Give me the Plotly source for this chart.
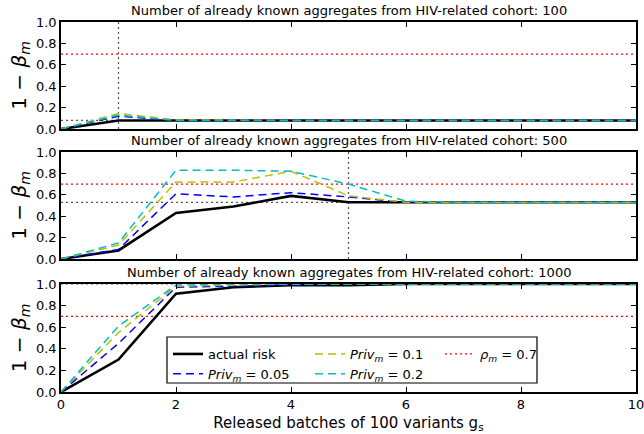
import plotly.graph_objects as go
from plotly.subplots import make_subplots

# ---- data ----
batches = [0, 1, 2, 3, 4, 5, 6, 7, 8, 9, 10]

actual_100 = [0, 0.08, 0.08, 0.08, 0.08, 0.08, 0.08, 0.08, 0.08, 0.08, 0.08]
priv005_100 = [0, 0.12, 0.08, 0.08, 0.08, 0.08, 0.08, 0.08, 0.08, 0.08, 0.08]
priv01_100 = [0, 0.145, 0.085, 0.08, 0.08, 0.08, 0.08, 0.08, 0.08, 0.08, 0.08]
priv02_100 = [0, 0.13, 0.08, 0.08, 0.08, 0.08, 0.08, 0.08, 0.08, 0.08, 0.08]

actual_500 = [0, 0.08, 0.43, 0.49, 0.59, 0.53, 0.53, 0.53, 0.53, 0.53, 0.53]
priv005_500 = [0, 0.09, 0.61, 0.58, 0.62, 0.58, 0.53, 0.53, 0.53, 0.53, 0.53]
priv01_500 = [0, 0.13, 0.72, 0.72, 0.82, 0.59, 0.53, 0.53, 0.53, 0.53, 0.53]
priv02_500 = [0, 0.15, 0.83, 0.83, 0.82, 0.70, 0.54, 0.53, 0.53, 0.53, 0.53]

actual_1000 = [0, 0.30, 0.91, 0.97, 0.99, 0.99, 1.0, 1.0, 1.0, 1.0, 1.0]
priv005_1000 = [0, 0.45, 0.97, 0.98, 0.99, 1.0, 1.0, 1.0, 1.0, 1.0, 1.0]
priv01_1000 = [0, 0.55, 0.98, 0.99, 1.0, 1.0, 1.0, 1.0, 1.0, 1.0, 1.0]
priv02_1000 = [0, 0.61, 0.99, 1.0, 1.0, 1.0, 1.0, 1.0, 1.0, 1.0, 1.0]

rho_threshold = 0.7
cohort_sizes = [100, 500, 1000]
# batch at which the actual risk stabilises, and its stable value
stable_batch = [1, 5, 2]
stable_value = [0.08, 0.53, 1.0]

panels = [
    (actual_100, priv005_100, priv01_100, priv02_100),
    (actual_500, priv005_500, priv01_500, priv02_500),
    (actual_1000, priv005_1000, priv01_1000, priv02_1000),
]

FONT = "DejaVu Sans"
BLUE = "#0000ff"
YEL = "#bfbf00"
CYAN = "#00bfbf"
RED = "#ff0000"

fig = make_subplots(rows=3, cols=1, shared_xaxes=False, vertical_spacing=0.06)

names = ["actual risk",
         "<i>Priv</i><sub><i>m</i></sub> = 0.05",
         "<i>Priv</i><sub><i>m</i></sub> = 0.1",
         "<i>Priv</i><sub><i>m</i></sub> = 0.2"]
legend_ids = ["legend", "legend", "legend2", "legend2"]

for r, (act, p1, p2, p3) in enumerate(panels, start=1):
    show = (r == 3)
    # reference dotted lines
    fig.add_trace(go.Scatter(x=[0, stable_batch[r - 1]], y=[stable_value[r - 1]] * 2,
                             mode="lines", line=dict(color="#555555", width=1.2, dash="2px,3px"),
                             showlegend=False, hoverinfo="skip"), row=r, col=1)
    if r != 3:
        fig.add_trace(go.Scatter(x=[stable_batch[r - 1]] * 2, y=[0, 1],
                                 mode="lines", line=dict(color="#555555", width=1.2, dash="2px,3px"),
                                 showlegend=False, hoverinfo="skip"), row=r, col=1)
    fig.add_trace(go.Scatter(x=[0, 10], y=[rho_threshold] * 2, mode="lines",
                             line=dict(color=RED, width=1.3, dash="2px,3px"),
                             name="<i>ρ</i><sub><i>m</i></sub> = 0.7", legend="legend3",
                             showlegend=show), row=r, col=1)
    fig.add_trace(go.Scatter(x=batches, y=act, mode="lines",
                             line=dict(color="black", width=2.6),
                             name=names[0], legend=legend_ids[0], legendrank=1,
                             showlegend=show), row=r, col=1)
    for series, col, nm, lg, rank in ((p1, BLUE, names[1], legend_ids[1], 2),
                                      (p2, YEL, names[2], legend_ids[2], 3),
                                      (p3, CYAN, names[3], legend_ids[3], 4)):
        fig.add_trace(go.Scatter(x=batches, y=series, mode="lines",
                                 line=dict(color=col, width=1.5, dash="8px,5px"),
                                 name=nm, legend=lg, legendrank=rank,
                                 showlegend=show), row=r, col=1)

H = 370.0
doms = [[263 / H, 1.0], [133 / H, 240 / H], [0.0, 108 / H]]
for r in range(1, 4):
    fig.update_yaxes(row=r, col=1, range=[0, 1], domain=doms[r - 1], automargin=False,
                     tickvals=[0, 0.2, 0.4, 0.6, 0.8, 1.0], tickformat=".1f",
                     ticks="inside", ticklen=5, tickcolor="black", mirror="ticks",
                     showline=True, linecolor="black", linewidth=1.5,
                     showgrid=False, zeroline=False, ticklabeloverflow="allow",
                     tickfont=dict(family=FONT, size=13, color="black"),
                     title=dict(text="1 − <i>β</i><sub><i>m</i></sub>",
                                font=dict(family=FONT, size=20, color="black"), standoff=4))
    fig.update_xaxes(row=r, col=1, range=[0, 10], tickvals=[0, 2, 4, 6, 8, 10], automargin=False,
                     ticks="inside", ticklen=5, tickcolor="black", mirror="ticks",
                     showline=True, linecolor="black", linewidth=1.5,
                     showgrid=False, zeroline=False, showticklabels=(r == 3),
                     ticklabeloverflow="allow",
                     tickfont=dict(family=FONT, size=13, color="black"))
fig.update_xaxes(row=3, col=1,
                 title=dict(text="Released batches of 100 variants g<sub>s</sub>",
                            font=dict(family=FONT, size=15, color="black"), standoff=6))

for r in range(3):
    fig.add_annotation(x=0.5, y=doms[r][1], xref="paper", yref="paper",
                       yanchor="bottom", yshift=2, showarrow=False,
                       text=f"Number of already known aggregates from HIV-related cohort: {cohort_sizes[r]}",
                       font=dict(family=FONT, size=13, color="black"))

# legend box
fig.add_shape(type="rect", xref="paper", yref="paper",
              x0=(167 - 61) / 575, x1=(537 - 61) / 575,
              y0=(392 - 383) / H, y1=(392 - 337) / H,
              line=dict(color="black", width=1.2), fillcolor="white", layer="above")

leg_common = dict(bgcolor="rgba(0,0,0,0)", borderwidth=0, yanchor="top",
                  font=dict(family=FONT, size=13, color="black"),
                  tracegroupgap=0, itemwidth=30)
fig.update_layout(
    legend=dict(x=(168 - 61) / 575, y=(392 - 339) / H, **leg_common),
    legend2=dict(x=(310 - 61) / 575, y=(392 - 339) / H, **leg_common),
    legend3=dict(x=(440 - 61) / 575, y=(392 - 339) / H, **leg_common),
)

fig.update_layout(width=644, height=434, plot_bgcolor="white", paper_bgcolor="white",
                  margin=dict(l=61, r=8, t=22, b=42),
                  font=dict(family=FONT, color="black"))

fig.write_html("out.html")
